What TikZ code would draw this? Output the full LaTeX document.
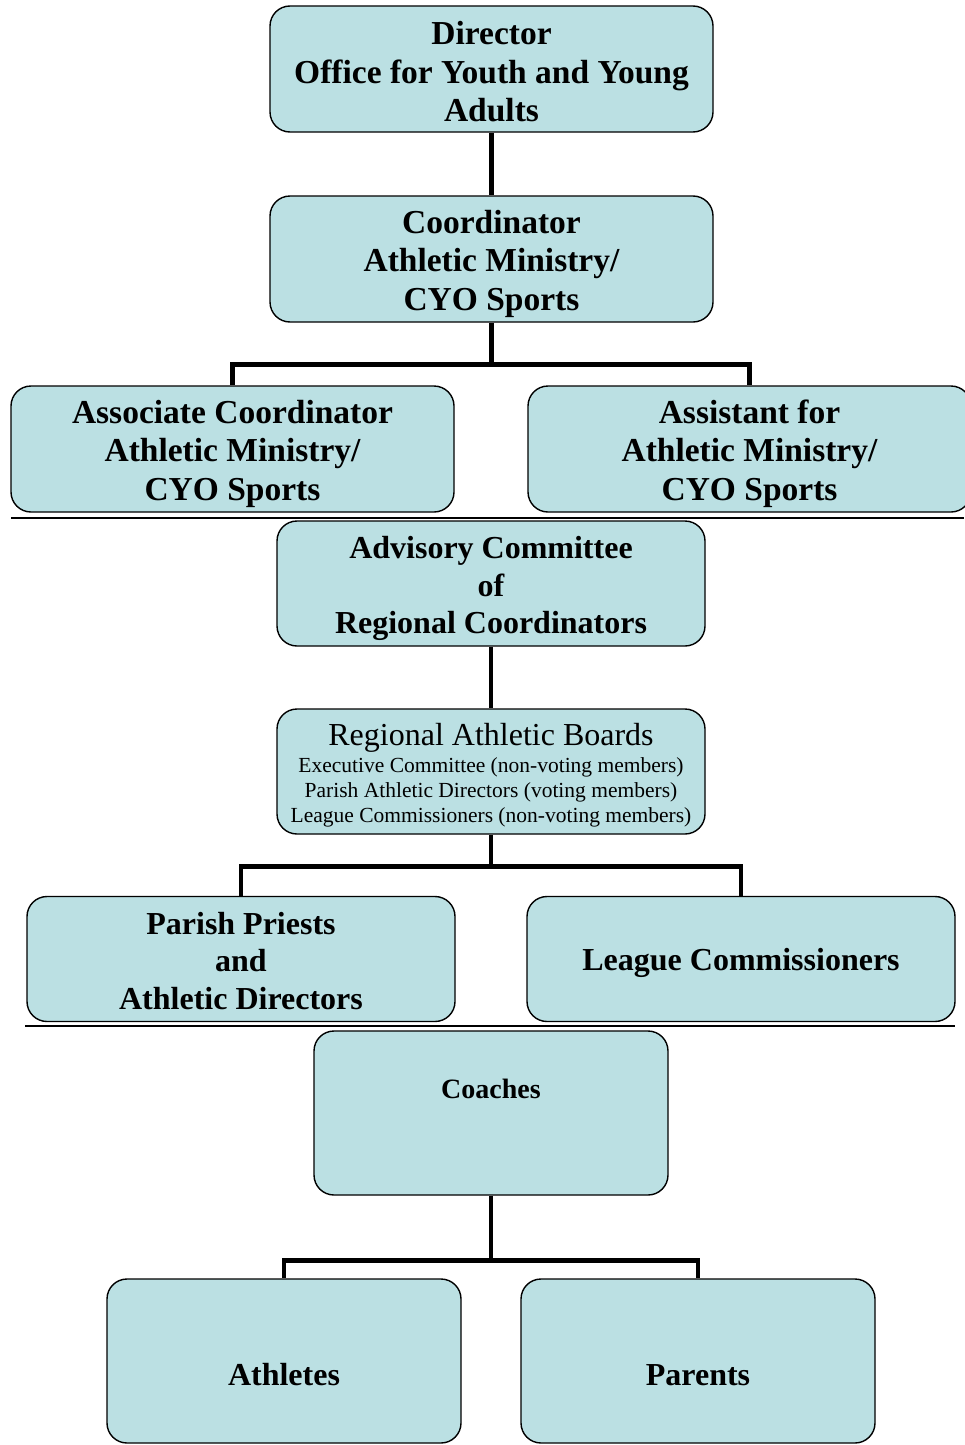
\documentclass[tikz,border=0pt]{standalone}
\usepackage{fontspec}
\setmainfont{Liberation Serif}
\usetikzlibrary{positioning}
\definecolor{boxblue}{RGB}{187,224,227}
\newcommand{\lift}[1]{\rule{0pt}{#1pt}}

\tikzset{
	orgbox/.style={draw=black, line width=1.4pt, fill=boxblue, rounded corners=20pt, align=center, inner sep=0pt},
	headbox/.style={orgbox, minimum width=443pt, minimum height=126pt, font=\bfseries\fontsize{33.5}{38.5}\selectfont},
	midbox/.style={orgbox, minimum width=428pt, minimum height=125pt, font=\bfseries\fontsize{32}{37.5}\selectfont},
	lowbox/.style={orgbox, minimum width=354pt, minimum height=164pt},
	lowtext/.style={font=\bfseries\fontsize{32}{38}\selectfont},
	link/.style={line width=4.5pt},
	rule/.style={line width=2.5pt}
}

\begin{document}
\begin{tikzpicture}[x=1pt, y=-1pt]
		\useasboundingbox (0,0) rectangle (964,1445);
		
		\node[headbox] (dir) at (491.5,69) {\lift{29}Director\\Office for Youth and Young\\Adults};
		\node[headbox] (coord) at (491.5,259) {\lift{33}Coordinator\\Athletic Ministry/\\CYO Sports};
		\node[headbox] (assoc) at (232.5,449) {\lift{33}Associate Coordinator\\Athletic Ministry/\\CYO Sports};
		\node[headbox] (assist) at (749.5,449) {\lift{33}Assistant for\\Athletic Ministry/\\CYO Sports};
		
		\draw[link] (dir) -- (coord);
		\draw[link] (coord.south) -- ++(0,42) coordinate (fork1) -| (assoc.north);
		\draw[link] (fork1) -| (assist.north);
		
		\coordinate (rule1a) at (11,518);
		\coordinate (rule1b) at (964,518);
		\draw[rule] (rule1a) -- (rule1b);
		
		\node[midbox] (advis) at (491,583.5) {\lift{33}Advisory Committee\\of\\Regional Coordinators};
		\node[midbox, font=\fontsize{21.5}{25}\selectfont] (board) at (491,771.5)
			{{\fontsize{32}{36}\selectfont\lift{30}Regional Athletic Boards}\\[2pt]
			Executive Committee (non-voting members)\\
			Parish Athletic Directors (voting members)\\
			League Commissioners (non-voting members)};
		\node[midbox] (parish) at (241,959) {\lift{26}Parish Priests\\and\\Athletic Directors};
		\node[midbox] (league) at (741,959) {\lift{31}League Commissioners};
		
		\draw[link] (advis) -- (board);
		\draw[link] (board.south) -- ++(0,32) coordinate (fork2) -| (parish.north);
		\draw[link] (fork2) -| (league.north);
		
		\coordinate (rule2a) at (25,1026);
		\coordinate (rule2b) at (955,1026);
		\draw[rule] (rule2a) -- (rule2b);
		
		\node[lowbox, label={[lowtext, font=\bfseries\fontsize{28}{34}\selectfont, yshift=24pt]center:Coaches}] (coach) at (491,1113) {};
		\node[lowbox, label={[lowtext, yshift=-14pt]center:Athletes}] (athl) at (284,1361) {};
		\node[lowbox, label={[lowtext, yshift=-14pt]center:Parents}] (parent) at (698,1361) {};
		
		\draw[link] (coach.south) -- ++(0,65) coordinate (fork3) -| (athl.north);
		\draw[link] (fork3) -| (parent.north);
\end{tikzpicture}
\end{document}
